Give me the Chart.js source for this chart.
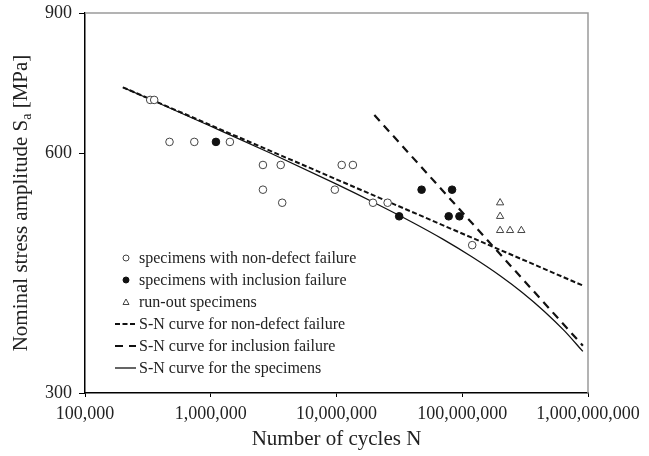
<!DOCTYPE html>
<html>
<head>
<meta charset="utf-8">
<title>S-N curve</title>
<script src="https://cdn.jsdelivr.net/npm/chart.js@4.4.0/dist/chart.umd.min.js"></script>
<style>
  html, body { margin: 0; padding: 0; background: #fff; }
</style>
</head>
<body>
<canvas id="sn-chart" width="649" height="456"></canvas>
<script>
// values (cycles N, stress amplitude MPa)
var nonDefectCycles = [3.3e5, 3.55e5, 4.7e5, 7.4e5, 1.42e6, 2.6e6, 3.6e6, 2.6e6, 3.7e6, 1.1e7, 1.35e7, 9.7e6, 1.95e7, 2.55e7, 1.2e8];
var nonDefectStress = [700, 700, 620, 620, 620, 580, 580, 540, 520, 580, 580, 540, 520, 520, 460];

var inclusionCycles = [1.1e6, 3.15e7, 4.75e7, 8.3e7, 7.8e7, 9.5e7];
var inclusionStress = [620, 500, 540, 540, 500, 500];

var runoutCycles = [2e8, 2e8, 2e8, 2.4e8, 2.95e8];
var runoutStress = [520, 500, 480, 480, 480];

var curveNonDefectCycles = [2e5, 9.2e8];
var curveNonDefectStress = [726, 409];

var curveInclusionCycles = [2e7, 9.1e8];
var curveInclusionStress = [670, 344];

var curveAllCycles = [2e5, 1e6, 3e6, 1e7, 2e7, 4e7, 7e7, 1.2e8, 2e8, 3e8, 4.5e8, 6.5e8, 9.1e8];
var curveAllStress = [726, 648.7, 600, 548.7, 520, 491.5, 468.1, 444.5, 421.1, 401.2, 379.8, 359, 338.3];

var xTicks = [1e5, 1e6, 1e7, 1e8, 1e9];
var yTicks = [300, 600, 900];

var serif = "'Liberation Serif', 'Times New Roman', serif";
var ink = '#222';

function pairs(xs, ys) {
  return xs.map(function (x, i) { return { x: x, y: ys[i] }; });
}

// grey frame on top / right, like the original plot box
var framePlugin = {
  id: 'frame',
  beforeDatasetsDraw: function (chart) {
    var a = chart.chartArea, ctx = chart.ctx;
    ctx.save();
    ctx.strokeStyle = '#9a9a9a';
    ctx.lineWidth = 1.5;
    ctx.beginPath();
    ctx.moveTo(a.left, a.top);
    ctx.lineTo(a.right, a.top);
    ctx.lineTo(a.right, a.bottom);
    ctx.stroke();
    ctx.restore();
  }
};

// y title with subscript a
var yTitlePlugin = {
  id: 'yTitle',
  afterDraw: function (chart) {
    var ctx = chart.ctx, a = chart.chartArea;
    var big = '21px ' + serif, small = '14px ' + serif;
    var p1 = 'Nominal stress amplitude S', p2 = 'a', p3 = ' [MPa]';
    ctx.save();
    ctx.font = big;
    var w1 = ctx.measureText(p1).width, w3 = ctx.measureText(p3).width;
    ctx.font = small;
    var w2 = ctx.measureText(p2).width;
    var x = -(w1 + w2 + w3) / 2;
    ctx.translate(21, (a.top + a.bottom) / 2);
    ctx.rotate(-Math.PI / 2);
    ctx.fillStyle = ink;
    ctx.textBaseline = 'middle';
    ctx.textAlign = 'left';
    ctx.font = big;
    ctx.fillText(p1, x, 0);
    ctx.font = small;
    ctx.fillText(p2, x + w1, 6);
    ctx.font = big;
    ctx.fillText(p3, x + w1 + w2, 0);
    ctx.restore();
  }
};

// legend inside the plot, bottom left
var legendPlugin = {
  id: 'insideLegend',
  afterDraw: function (chart) {
    var ctx = chart.ctx, a = chart.chartArea;
    var sets = chart.data.datasets;
    var step = 22;
    var y0 = a.bottom - 25 - step * (sets.length - 1);
    var symX = a.left + 41, textX = a.left + 54;
    ctx.save();
    ctx.font = '16px ' + serif;
    ctx.textBaseline = 'middle';
    ctx.fillStyle = ink;
    sets.forEach(function (ds, i) {
      var y = y0 + i * step;
      ctx.save();
      ctx.strokeStyle = ds.borderColor;
      ctx.fillStyle = ds.pointBackgroundColor || '#fff';
      if (ds.showLine) {
        ctx.lineWidth = ds.borderWidth;
        ctx.setLineDash(ds.borderDash || []);
        ctx.beginPath();
        ctx.moveTo(symX - 11, y);
        ctx.lineTo(symX + 10, y);
        ctx.stroke();
      } else if (ds.pointStyle === 'triangle') {
        ctx.lineWidth = 1;
        ctx.beginPath();
        ctx.moveTo(symX, y - 3);
        ctx.lineTo(symX + 3, y + 2.5);
        ctx.lineTo(symX - 3, y + 2.5);
        ctx.closePath();
        ctx.stroke();
      } else {
        ctx.lineWidth = 1;
        ctx.beginPath();
        ctx.arc(symX, y, 3, 0, Math.PI * 2);
        ctx.fill();
        ctx.stroke();
      }
      ctx.restore();
      ctx.fillText(ds.label, textX, y + 1);
    });
    ctx.restore();
  }
};

new Chart(document.getElementById('sn-chart'), {
  type: 'scatter',
  data: {
    datasets: [{
      label: 'specimens with non-defect failure',
      data: pairs(nonDefectCycles, nonDefectStress),
      pointStyle: 'circle',
      pointRadius: 3.8,
      borderColor: '#444',
      borderWidth: 1,
      pointBackgroundColor: '#fff',
      backgroundColor: '#fff'
    }, {
      label: 'specimens with inclusion failure',
      data: pairs(inclusionCycles, inclusionStress),
      pointStyle: 'circle',
      pointRadius: 3.8,
      borderColor: '#111',
      borderWidth: 1,
      pointBackgroundColor: '#111',
      backgroundColor: '#111'
    }, {
      label: 'run-out specimens',
      data: pairs(runoutCycles, runoutStress),
      pointStyle: 'triangle',
      pointRadius: 4.2,
      borderColor: '#444',
      borderWidth: 1,
      pointBackgroundColor: '#fff',
      backgroundColor: '#fff'
    }, {
      label: 'S-N curve for non-defect failure',
      data: pairs(curveNonDefectCycles, curveNonDefectStress),
      showLine: true,
      pointRadius: 0,
      borderColor: '#111',
      borderWidth: 2,
      borderDash: [5, 2.5]
    }, {
      label: 'S-N curve for inclusion failure',
      data: pairs(curveInclusionCycles, curveInclusionStress),
      showLine: true,
      pointRadius: 0,
      borderColor: '#111',
      borderWidth: 2.2,
      borderDash: [8, 6]
    }, {
      label: 'S-N curve for the specimens',
      data: pairs(curveAllCycles, curveAllStress),
      showLine: true,
      pointRadius: 0,
      borderColor: '#111',
      borderWidth: 1.3,
      cubicInterpolationMode: 'monotone'
    }]
  },
  options: {
    responsive: false,
    animation: false,
    devicePixelRatio: 1,
    layout: { padding: { top: 13, right: 61, left: 0, bottom: 0 } },
    plugins: {
      legend: { display: false },
      tooltip: { enabled: false }
    },
    scales: {
      x: {
        type: 'logarithmic',
        min: 1e5,
        max: 1e9,
        afterBuildTicks: function (s) { s.ticks = xTicks.map(function (v) { return { value: v }; }); },
        afterFit: function (s) { s.height = 63; s.paddingLeft = 0; s.paddingRight = 0; },
        grid: { display: true, drawOnChartArea: false, drawTicks: true, tickLength: 4, color: '#000' },
        border: { display: true, color: '#000', width: 1.5 },
        ticks: {
          autoSkip: false,
          maxRotation: 0,
          padding: 6,
          color: ink,
          font: { family: serif, size: 18 },
          callback: function (v) { return Number(v).toLocaleString('en-US'); }
        },
        title: {
          display: true,
          text: 'Number of cycles N',
          color: ink,
          font: { family: serif, size: 21 },
          padding: { top: 0, bottom: 4 }
        }
      },
      y: {
        type: 'logarithmic',
        min: 300,
        max: 900,
        afterBuildTicks: function (s) { s.ticks = yTicks.map(function (v) { return { value: v }; }); },
        afterFit: function (s) { s.width = 85; s.paddingTop = 0; s.paddingBottom = 0; },
        grid: { display: true, drawOnChartArea: false, drawTicks: true, tickLength: 6, color: '#000' },
        border: { display: true, color: '#000', width: 1.5 },
        ticks: {
          autoSkip: false,
          padding: 7,
          color: ink,
          font: { family: serif, size: 18 },
          callback: function (v) { return String(v); }
        }
      }
    }
  },
  plugins: [framePlugin, yTitlePlugin, legendPlugin]
});
</script>
</body>
</html>
